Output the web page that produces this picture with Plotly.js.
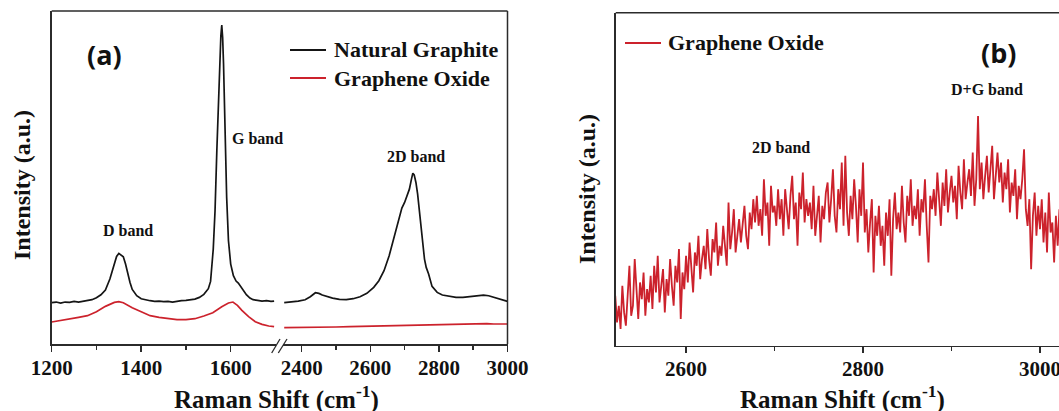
<!DOCTYPE html>
<html><head><meta charset="utf-8">
<script src="https://cdn.plot.ly/plotly-3.0.1.min.js"></script>
<style>html,body{margin:0;padding:0;background:#fff}</style>
</head><body><div id="chart" style="width:1059px;height:411px"></div>
<script>
// ---- Panel (a): Natural Graphite, left segment (1200-1700 cm-1)
const graphiteLeftX = [1200,1210,1220,1230,1240,1250,1260,1270,1280,1290,1300,1310,1320,1330,1335,1340,1345,1350,1355,1360,1365,1370,1375,1380,1390,1400,1410,1420,1430,1440,1450,1460,1470,1480,1490,1500,1510,1520,1530,1540,1550,1555,1561,1565,1569,1573,1576,1578,1580,1582,1584,1587,1591,1595,1600,1606,1612,1617,1622,1628,1635,1643,1650,1660,1670,1680,1690,1697];
const graphiteLeftY = [12.4,12.6,12.3,12.6,12.5,12.8,12.6,12.9,13.1,13.3,13.9,14.8,16.2,19.5,21.8,24.3,26.3,27.2,26.8,26.2,24.0,21.0,18.5,16.4,14.5,13.6,13.2,13.0,12.8,12.9,12.7,12.8,12.6,12.9,13.0,13.1,13.2,13.5,14.0,14.9,16.6,18.8,28.5,40.0,58.0,76.0,87.0,92.5,95.8,92.0,84.0,64.0,44.0,31.0,24.0,20.5,18.9,18.3,17.3,16.0,14.8,13.8,13.3,13.1,12.9,13.0,12.8,12.9];
// ---- Panel (a): Graphene Oxide, left segment
const oxideLeftX = [1200,1220,1240,1260,1280,1300,1320,1340,1350,1360,1380,1400,1420,1440,1460,1480,1500,1520,1540,1560,1580,1595,1605,1615,1625,1640,1655,1670,1685,1697];
const oxideLeftY = [6.6,7.0,7.4,8.0,8.5,9.7,11.3,12.5,12.7,12.4,10.9,9.6,8.5,8.0,7.6,7.3,7.3,7.6,8.4,9.4,11.2,12.3,12.6,11.6,10.1,8.2,6.7,5.9,5.4,5.2];
// ---- Panel (a): Natural Graphite, right segment (2350-3000 cm-1)
const graphiteRightX = [2349,2370,2390,2410,2425,2440,2450,2460,2475,2490,2510,2530,2550,2570,2590,2610,2625,2640,2655,2665,2675,2685,2692,2700,2708,2714,2720,2724,2728,2733,2738,2743,2748,2753,2758,2763,2770,2780,2795,2810,2830,2850,2870,2890,2910,2930,2945,2960,2975,2990,3000];
const graphiteRightY = [12.4,12.6,12.9,13.3,14.2,15.4,15.2,14.7,14.2,13.8,13.4,13.3,13.6,14.2,15.2,17.0,19.0,22.0,26.5,30.5,34.5,38.5,40.8,42.5,44.8,46.5,49.5,51.3,50.8,48.5,45.0,40.0,35.5,30.0,25.5,23.0,21.0,17.3,15.5,14.7,14.3,14.0,14.0,14.2,14.5,14.7,14.5,14.0,13.5,13.0,12.8];
// ---- Panel (a): Graphene Oxide, right segment
const oxideRightX = [2349,2380,2420,2460,2500,2540,2580,2620,2660,2700,2740,2780,2820,2860,2900,2940,2960,2980,3000];
const oxideRightY = [4.9,4.9,5.0,5.1,5.1,5.2,5.3,5.4,5.5,5.6,5.7,5.8,5.8,5.9,5.9,6.1,6.0,6.1,6.0];
// ---- Panel (b): Graphene Oxide, 2520-3030 cm-1, sampled every 2 cm-1
const oxideBStart = 2520, oxideBStep = 2;
const oxideBY = [
 15,7,12,5,18,10,6,14,24,9,
 12,26,15,8,19,14,22,9,17,13,
 21,11,24,16,27,13,18,23,10,20,
 15,26,18,12,24,19,29,8,22,17,
 27,19,31,22,16,28,24,33,20,26,
 30,23,35,26,21,32,28,37,24,30,
 27,36,31,24,43,29,34,41,28,33,
 38,31,36,42,33,29,40,35,44,37,
 45,36,41,33,50,39,43,30,48,40,
 42,36,47,38,44,33,47,40,35,45,
 51,38,43,30,46,41,52,37,44,39,
 43,35,48,33,40,45,31,42,38,46,
 49,37,44,53,39,34,47,41,55,36,
 57,40,33,45,38,50,42,31,47,39,
 55,34,41,28,37,44,22,39,33,42,
 30,36,24,40,33,44,21,38,46,35,
 40,34,48,37,31,45,39,50,36,42,
 38,47,33,44,40,50,36,25,45,41,
 47,39,52,44,36,49,42,53,40,46,
 51,43,48,38,54,46,41,56,44,49,
 53,45,58,42,50,69,47,55,44,51,
 57,46,53,60,44,51,58,49,55,43,
 52,47,56,40,49,45,53,38,48,44,
 50,59,41,36,44,23,39,46,33,42,
 35,44,31,40,28,46,34,37,25,39,
 30,41,27,36,24,33];
const oxideBX = oxideBY.map((_, i) => oxideBStart + i * oxideBStep);

const ticksLeft = [1200,1400,1600], minorLeft = [1300,1500];
const ticksRight = [2400,2600,2800,3000], minorRight = [2500,2700,2900];
const ticksB = [2600,2800,3000], minorB = [2700,2900];
const legendA = ['Natural Graphite', 'Graphene Oxide'];
const legendB = ['Graphene Oxide'];

const W = 1059, H = 411;
const px = v => v / W, py = v => 1 - v / H;

const BLACK = '#151515', RED = '#cc222c', AX = '#2b2b2b';
const SERIF = 'Liberation Serif';

const traces = [
  {x: graphiteLeftX, y: graphiteLeftY, xaxis:'x', yaxis:'y', mode:'lines', name:legendA[0], line:{color:BLACK, width:1.7}},
  {x: oxideLeftX, y: oxideLeftY, xaxis:'x', yaxis:'y', mode:'lines', name:legendA[1], line:{color:RED, width:1.7}},
  {x: graphiteRightX, y: graphiteRightY, xaxis:'x2', yaxis:'y', mode:'lines', name:legendA[0], line:{color:BLACK, width:1.7}},
  {x: oxideRightX, y: oxideRightY, xaxis:'x2', yaxis:'y', mode:'lines', name:legendA[1], line:{color:RED, width:1.7}},
  {x: oxideBX, y: oxideBY, xaxis:'x3', yaxis:'y3', mode:'lines', name:legendB[0], line:{color:RED, width:1.8}}
];

const tickFont = {family: SERIF, size: 21, color: '#111', weight: 'bold'};
function xax(domain, range, tv, mv, anchor) {
  return {domain, range, anchor, tickmode:'array', tickvals: tv, ticktext: tv.map(v => '<b>' + v + '</b>'),
    ticks:'outside', ticklen:6, tickwidth:1.5, tickcolor:AX,
    minor:{tickmode:'array', tickvals: mv, ticks:'outside', ticklen:4, tickwidth:1.5, tickcolor:AX, showgrid:false},
    showline:true, linecolor:AX, linewidth:1.5, showgrid:false, zeroline:false, tickfont: tickFont,
    ticklabeloverflow:'allow', ticklabelstandoff:-2, fixedrange:true};
}
function yax(domain, anchor) {
  return {domain, range:[0,100], anchor, showticklabels:false, ticks:'', showline:true, linecolor:AX, linewidth:1.5,
    showgrid:false, zeroline:false, fixedrange:true};
}

const aL = 51.7, aBreakL = 275.5, aBreakR = 283, aR = 507.5, aT = 11, aB = 344;
const bL = 615.7, bT = 12.7, bB = 345.7;

const lineShape = (x0,y0,x1,y1,w,c) => ({type:'line', xref:'paper', yref:'paper', x0:px(x0), y0:py(y0), x1:px(x1), y1:py(y1), line:{color:c||AX, width:w||1.5}});

const txt = (text, x, y, size, fam, xanchor) => ({text, xref:'paper', yref:'paper', x:px(x), y:py(y), xanchor:xanchor||'center', yanchor:'middle', showarrow:false,
  font:{family:fam || SERIF, size, color:'#111', weight:'bold'}});

const layout = {
  width: W, height: H, margin:{l:0, r:0, t:0, b:0}, paper_bgcolor:'#fff', plot_bgcolor:'rgba(0,0,0,0)',
  xaxis: xax([px(aL), px(aBreakL)], [1200, 1200 + (aBreakL - aL) / 0.4475], ticksLeft, minorLeft, 'y'),
  xaxis2: xax([px(aBreakR), px(aR)], [3000 - (aR - aBreakR) / 0.343, 3000], ticksRight, minorRight, 'y'),
  xaxis3: xax([px(bL), 1], [2520.5, 3021.5], ticksB, minorB, 'y3'),
  yaxis: yax([py(aB), py(aT)], 'x'),
  yaxis3: yax([py(bB), py(bT)], 'x3'),
  showlegend: false,
  shapes: [
    lineShape(aL, aT, aR, aT), lineShape(aR, aT, aR, aB),
    lineShape(bL, bT, W + 2, bT),
    lineShape(271.7, 353, 280, 339, 1.3), lineShape(278.3, 353, 287, 339, 1.3),
    // legend keys
    lineShape(290, 50, 326, 50, 1.8, BLACK), lineShape(290, 78, 326, 78, 1.8, RED),
    lineShape(625, 43, 661, 43, 1.8, RED)
  ],
  annotations: [
    txt(legendA[0], 332, 50, 22, SERIF, 'left'),
    txt(legendA[1], 332, 78, 22, SERIF, 'left'),
    txt(legendB[0], 666, 43, 22, SERIF, 'left'),
    txt('(a)', 104, 55, 27, 'Open Sans'),
    txt('(b)', 998, 53, 27, 'Open Sans'),
    txt('D band', 128, 230, 16),
    txt('G band', 257, 138, 16),
    txt('2D band', 416, 156, 16),
    txt('2D band', 781, 147, 16),
    txt('D+G band', 987, 90, 16),
    Object.assign(txt('Intensity (a.u.)', 22, 185, 24), {textangle:-90}),
    Object.assign(txt('Intensity (a.u.)', 587, 189, 24), {textangle:-90}),
    txt('Raman Shift (cm<sup>-1</sup>)', 277, 397, 25),
    txt('Raman Shift (cm<sup>-1</sup>)', 842, 397, 25)
  ]
};

Plotly.newPlot('chart', traces, layout, {displayModeBar:false, staticPlot:true});
</script>
</body></html>
